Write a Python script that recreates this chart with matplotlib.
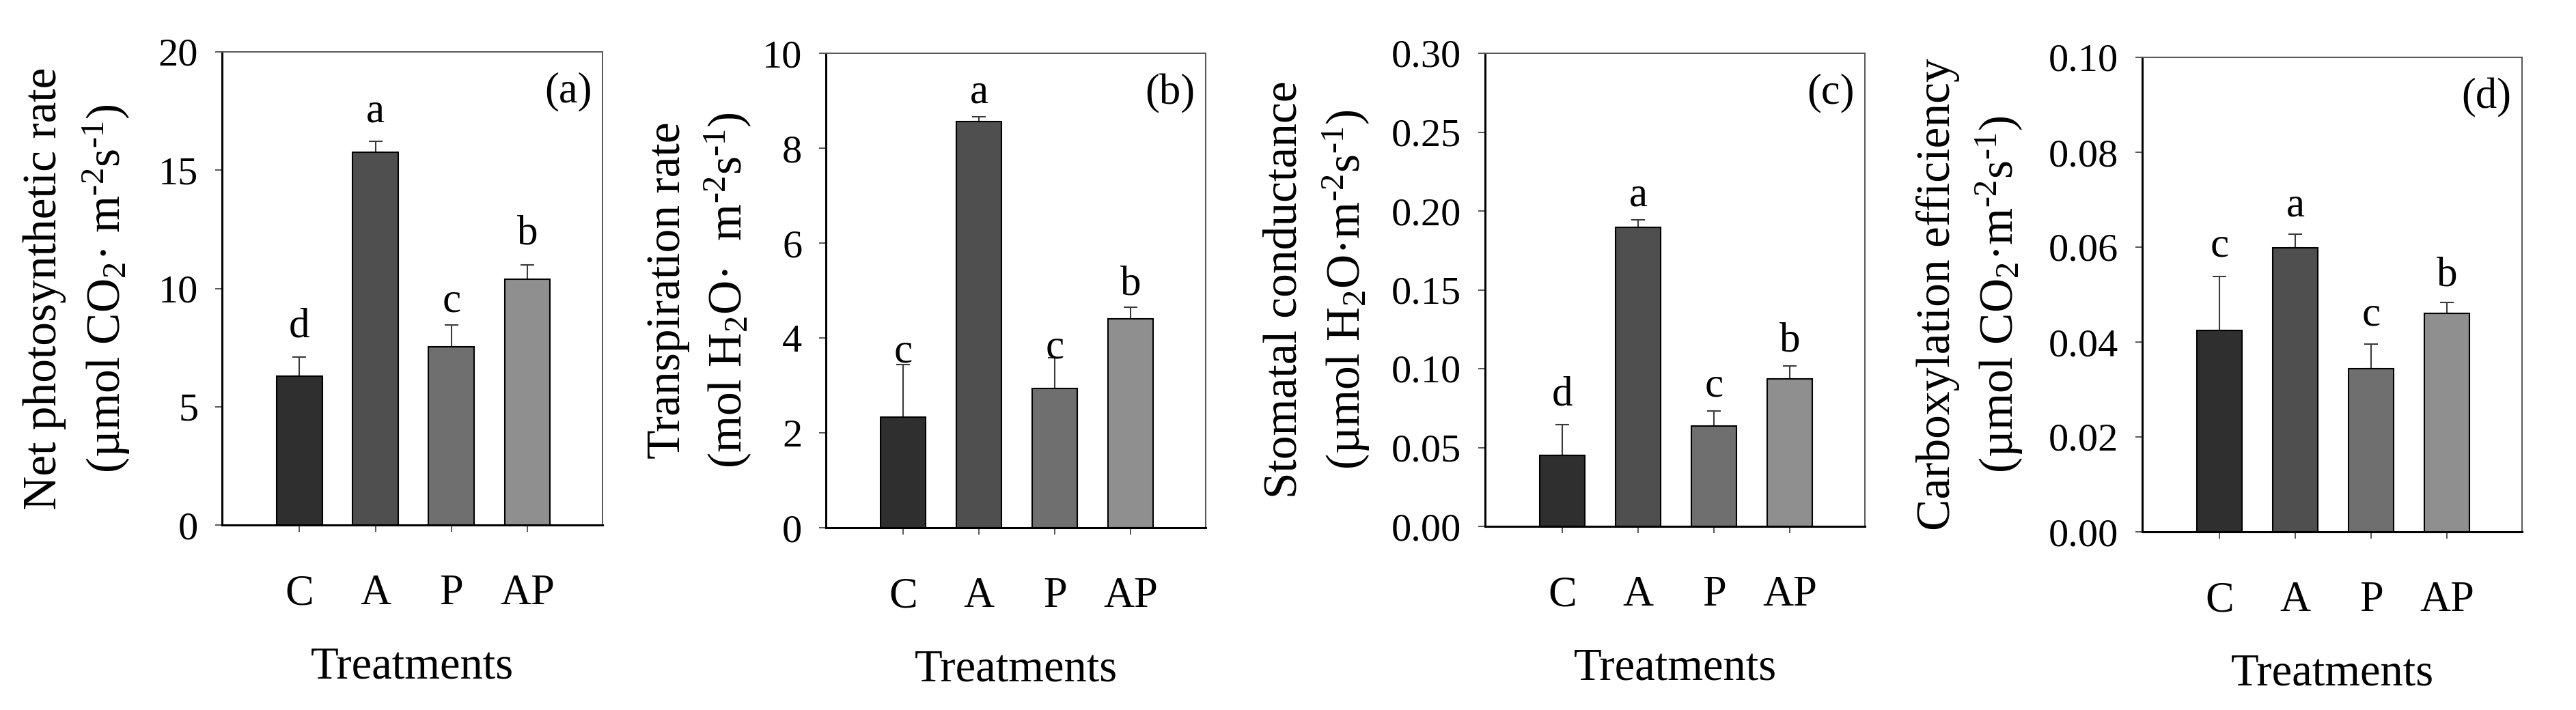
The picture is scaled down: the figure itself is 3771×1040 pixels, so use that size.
import matplotlib
matplotlib.use('Agg')
import matplotlib.pyplot as plt
from matplotlib.ticker import FormatStrFormatter

plt.rcParams['font.family'] = ['Liberation Serif', 'DejaVu Serif']
plt.rcParams['mathtext.fontset'] = 'custom'
plt.rcParams['mathtext.rm'] = 'Liberation Serif'
plt.rcParams['mathtext.it'] = 'Liberation Serif:italic'

treatments = ['C', 'A', 'P', 'AP']
bar_colors = ['#2f2f2f', '#4f4f4f', '#6f6f6f', '#8f8f8f']

# (a) net photosynthetic rate
pn_mean = [6.28, 15.77, 7.52, 10.39]
pn_err = [0.82, 0.46, 0.94, 0.60]
pn_letters = ['d', 'a', 'c', 'b']
pn_letter_y = [7.94, 17.03, 9.03, 11.87]
pn_ticks = [0, 5, 10, 15, 20]

# (b) transpiration rate
tr_mean = [2.33, 8.56, 2.94, 4.40]
tr_err = [1.11, 0.10, 0.64, 0.25]
tr_letters = ['c', 'a', 'c', 'b']
tr_letter_y = [3.49, 8.95, 3.58, 4.92]
tr_ticks = [0, 2, 4, 6, 8, 10]

# (c) stomatal conductance
gs_mean = [0.0451, 0.1897, 0.0638, 0.0937]
gs_err = [0.0196, 0.0046, 0.0092, 0.0080]
gs_letters = ['d', 'a', 'c', 'b']
gs_letter_y = [0.0767, 0.2032, 0.0825, 0.1112]
gs_ticks = [0.00, 0.05, 0.10, 0.15, 0.20, 0.25, 0.30]

# (d) carboxylation efficiency
ce_mean = [0.0424, 0.0598, 0.0344, 0.0460]
ce_err = [0.0114, 0.0030, 0.0052, 0.0023]
ce_letters = ['c', 'a', 'c', 'b']
ce_letter_y = [0.0580, 0.0666, 0.0435, 0.0519]
ce_ticks = [0.00, 0.02, 0.04, 0.06, 0.08, 0.10]

# superscripts with a short hyphen like the original (mathtext turns '-' into a long minus)
m2 = 'm$^{\u20102}$s$^{\u20101}$'
panels = [
    (pn_mean, pn_err, pn_letters, pn_letter_y, pn_ticks, '%d',
     'Net photosynthetic rate', '(µmol CO$_2$· ' + m2 + ')', '(a)'),
    (tr_mean, tr_err, tr_letters, tr_letter_y, tr_ticks, '%d',
     'Transpiration rate', '(mol H$_2$O·  ' + m2 + ')', '(b)'),
    (gs_mean, gs_err, gs_letters, gs_letter_y, gs_ticks, '%.2f',
     'Stomatal conductance', '(µmol H$_2$O·' + m2 + ')', '(c)'),
    (ce_mean, ce_err, ce_letters, ce_letter_y, ce_ticks, '%.2f',
     'Carboxylation efficiency', '(µmol CO$_2$·' + m2 + ')', '(d)'),
]

W, H = 3771, 1040
# axes boxes in pixels: left, right, top, bottom
boxes = [(325, 882, 76, 769), (1209, 1765, 78, 773),
         (2174, 2730, 78, 771), (3136, 3692, 84, 779)]
# baseline offsets of the two y-label lines from the left spine (px)
ylab_off = [(-243, -149), (-214, -123), (-276, -183), (-282, -189)]

fig = plt.figure(figsize=(W / 100, H / 100), dpi=100)

for i, (mean, err, letters, letter_y, ticks, fmt, lab1, lab2, tag) in enumerate(panels):
    l, r, t, b = boxes[i]
    ax = fig.add_axes([l / W, 1 - b / H, (r - l) / W, (b - t) / H])
    x = list(range(len(treatments)))

    ax.errorbar(x, mean, yerr=[[0] * 4, err], fmt='none', ecolor='#3a3a3a',
                elinewidth=1.5, capsize=7, capthick=1.5, zorder=2)
    ax.bar(x, mean, width=0.6, color=bar_colors, edgecolor='black',
           linewidth=1.5, zorder=3)

    for xi, s, yl in zip(x, letters, letter_y):
        ax.text(xi, yl, s, ha='center', va='baseline', fontsize=44)

    ax.set_xlim(-1.02, 3.99)
    ax.set_ylim(ticks[0], ticks[-1])
    ax.set_yticks(ticks)
    ax.yaxis.set_major_formatter(FormatStrFormatter(fmt))
    ax.set_xticks(x)
    ax.set_xticklabels(treatments)

    ax.tick_params(axis='y', direction='out', length=7, width=1.4, color='#555555',
                   labelsize=42, pad=18)
    ax.tick_params(axis='x', direction='out', length=7, width=1.4, color='#555555',
                   labelsize=45, pad=45)
    ax.set_xlabel('Treatments', fontsize=48, labelpad=34)

    for side in ['left', 'bottom']:
        ax.spines[side].set_color('black')
        ax.spines[side].set_linewidth(2.2)
    for side in ['top', 'right']:
        ax.spines[side].set_color('#555555')
        ax.spines[side].set_linewidth(1.4)

    w = r - l
    ax.text(ylab_off[i][0] / w, 0.5, lab1, transform=ax.transAxes, rotation=90,
            rotation_mode='anchor', ha='center', va='baseline', fontsize=50)
    ax.text(ylab_off[i][1] / w, 0.5, lab2, transform=ax.transAxes, rotation=90,
            rotation_mode='anchor', ha='center', va='baseline', fontsize=50)

    ax.text(0.972, 0.915, tag, transform=ax.transAxes, ha='right', va='center',
            fontsize=45)

fig.savefig('out.png', dpi=100)
